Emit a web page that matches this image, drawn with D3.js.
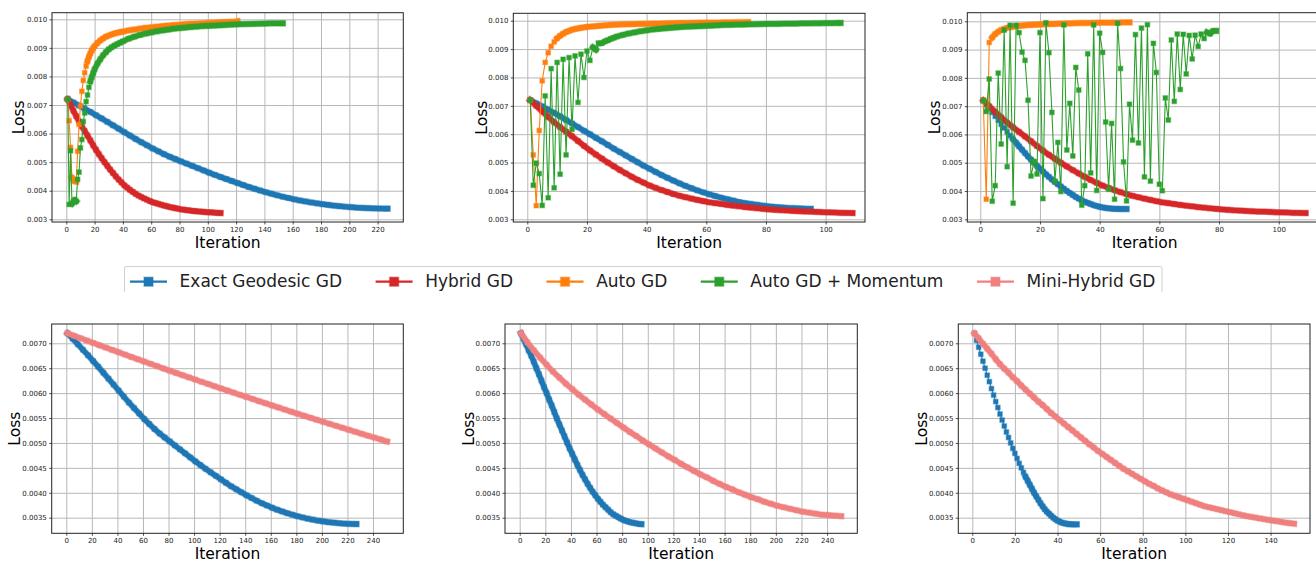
<!DOCTYPE html>
<html>
<head>
<meta charset="utf-8">
<script src="https://cdn.jsdelivr.net/npm/d3@7/dist/d3.min.js"></script>
<style>
  body { margin: 0; background: #fff; }
  svg { display: block; font-family: "DejaVu Sans", sans-serif; }
</style>
</head>
<body>
<div id="chart"></div>
<script>
'use strict'

// all loss values are in units of 1e-3
// dense series: one value per iteration, starting at iteration 1
// sparse series: [iteration, loss] pairs

const seriesNames = ['Exact Geodesic GD', 'Hybrid GD', 'Auto GD', 'Auto GD + Momentum', 'Mini-Hybrid GD']
const seriesColors = ['#1f77b4', '#d62728', '#ff7f0e', '#2ca02c', '#f08080']

const topLossTicks = [3, 4, 5, 6, 7, 8, 9, 10]
const bottomLossTicks = [3.5, 4.0, 4.5, 5.0, 5.5, 6.0, 6.5, 7.0]
const iterTicks220 = [0, 20, 40, 60, 80, 100, 120, 140, 160, 180, 200, 220]
const iterTicks100 = [0, 20, 40, 60, 80, 100]
const iterTicks240 = [0, 20, 40, 60, 80, 100, 120, 140, 160, 180, 200, 220, 240]
const iterTicks140 = [0, 20, 40, 60, 80, 100, 120, 140]

// Exact Geodesic GD, long run
const geodesicA = [[1,7.20],[5,7.09],[9,6.98],[13,6.87],[17,6.76],[21,6.645],[25,6.53],[29,6.41],[33,6.29],[37,6.17],
  [41,6.05],[45,5.93],[49,5.81],[53,5.70],[57,5.59],[61,5.48],[65,5.38],[69,5.28],[73,5.19],[77,5.11],[81,5.03],
  [85,4.95],[89,4.87],[93,4.79],[97,4.71],[101,4.63],[105,4.555],[109,4.48],[113,4.41],[117,4.34],[121,4.27],
  [125,4.20],[129,4.13],[133,4.07],[137,4.01],[141,3.95],[145,3.895],[149,3.84],[153,3.79],[157,3.745],[161,3.70],
  [165,3.66],[169,3.625],[173,3.59],[177,3.56],[181,3.53],[185,3.505],[189,3.48],[193,3.46],[197,3.44],[201,3.425],
  [205,3.41],[209,3.40],[213,3.39],[217,3.383],[221,3.378],[225,3.374],[227,3.373]]

// Exact Geodesic GD, medium run
const geodesicB = [[1,7.20],[3,7.09],[5,6.98],[7,6.86],[9,6.75],[11,6.63],[13,6.50],[15,6.38],[17,6.25],[19,6.12],
  [21,6.00],[23,5.87],[25,5.75],[27,5.62],[29,5.49],[31,5.37],[33,5.25],[35,5.13],[37,5.01],[39,4.89],[41,4.78],
  [43,4.67],[45,4.56],[47,4.46],[49,4.36],[51,4.27],[53,4.18],[55,4.10],[57,4.02],[59,3.95],[61,3.88],[63,3.82],
  [65,3.76],[67,3.71],[69,3.66],[71,3.61],[73,3.57],[75,3.54],[77,3.51],[79,3.48],[81,3.455],[83,3.435],[85,3.42],
  [87,3.405],[89,3.395],[91,3.385],[93,3.375],[95,3.37]]

// Exact Geodesic GD, short run (every iteration)
const geodesicC = [7.20, 7.06, 6.92, 6.78, 6.64, 6.50, 6.36, 6.23, 6.09, 5.96, 5.83, 5.71, 5.58, 5.46, 5.34, 5.22,
  5.11, 5.00, 4.89, 4.79, 4.69, 4.59, 4.50, 4.41, 4.32, 4.24, 4.16, 4.08, 4.00, 3.93, 3.86, 3.79, 3.73, 3.67, 3.62,
  3.58, 3.54, 3.50, 3.47, 3.44, 3.42, 3.40, 3.39, 3.38, 3.37, 3.37, 3.365, 3.365, 3.365]

// Hybrid GD (same run in all three top panels)
const hybrid = [[1,7.20],[3,7.00],[5,6.80],[7,6.61],[9,6.42],[11,6.25],[13,6.09],[15,5.93],[17,5.76],[19,5.59],
  [21,5.43],[23,5.28],[25,5.14],[27,5.00],[29,4.87],[31,4.74],[33,4.62],[35,4.50],[37,4.39],[39,4.29],[41,4.19],
  [43,4.11],[45,4.03],[47,3.96],[49,3.89],[51,3.83],[53,3.78],[55,3.73],[57,3.685],[59,3.64],[61,3.60],[63,3.57],
  [65,3.54],[67,3.51],[69,3.48],[71,3.46],[73,3.43],[75,3.41],[77,3.39],[79,3.37],[81,3.35],[83,3.335],[85,3.32],
  [87,3.31],[89,3.295],[91,3.285],[93,3.275],[95,3.27],[97,3.26],[99,3.25],[101,3.245],[103,3.24],[105,3.23],
  [107,3.225],[109,3.22]]

// Auto GD
const autoA = [[1,7.20],[2,6.45],[3,5.52],[4,4.45],[5,4.38],[6,4.33],[7,4.32],[8,5.38],[9,6.32],[10,6.97],[11,7.48],
  [12,7.86],[13,8.13],[14,8.36],[15,8.54],[16,8.69],[17,8.81],[18,8.91],[19,8.99],[20,9.06],[22,9.17],[24,9.26],
  [26,9.33],[28,9.39],[30,9.43],[32,9.47],[34,9.50],[36,9.53],[38,9.55],[40,9.57],[44,9.61],[48,9.64],[52,9.67],
  [56,9.70],[60,9.72],[64,9.74],[68,9.76],[72,9.78],[76,9.80],[80,9.81],[84,9.83],[88,9.84],[92,9.85],[96,9.86],
  [100,9.87],[104,9.88],[108,9.89],[112,9.90],[116,9.91],[120,9.92],[121,9.93]]
const autoB = [[1,7.20],[2,5.27],[3,3.48],[4,6.13],[5,7.88],[6,8.53],[7,8.87],[8,9.10],[9,9.25],[10,9.38],[11,9.47],
  [12,9.54],[13,9.60],[14,9.64],[15,9.68],[16,9.71],[17,9.73],[18,9.75],[19,9.765],[20,9.78],[22,9.80],[24,9.82],
  [26,9.835],[28,9.85],[30,9.86],[32,9.87],[34,9.875],[36,9.88],[38,9.885],[40,9.89],[42,9.895],[44,9.90],
  [46,9.905],[48,9.91],[50,9.915],[52,9.92],[54,9.92],[56,9.925],[58,9.93],[60,9.93],[62,9.935],[64,9.935],
  [66,9.94],[68,9.94],[70,9.945],[72,9.945],[74,9.95]]
const autoC = [[1,7.20],[2,3.71],[3,9.25],[4,9.43],[5,9.55],[6,9.63],[7,9.69],[8,9.73],[9,9.77],[10,9.79],[11,9.81],
  [12,9.83],[13,9.84],[14,9.85],[15,9.86],[16,9.87],[17,9.875],[18,9.88],[19,9.885],[20,9.89],[21,9.895],[22,9.90],
  [23,9.905],[24,9.91],[25,9.91],[26,9.915],[27,9.92],[28,9.92],[29,9.925],[30,9.93],[32,9.935],[34,9.94],[36,9.94],
  [38,9.945],[40,9.95],[42,9.95],[44,9.955],[46,9.955],[48,9.96],[50,9.96]]

// Auto GD + Momentum
const momentumA = [[1,7.20],[2,3.52],[3,5.40],[4,3.55],[5,3.62],[6,3.68],[7,3.63],[8,4.40],[9,4.65],[10,5.50],
  [11,5.79],[12,6.42],[13,6.72],[14,7.12],[15,7.35],[16,7.62],[17,7.83],[18,7.98],[19,8.12],[20,8.25],[22,8.45],
  [24,8.60],[26,8.74],[28,8.85],[30,8.95],[32,9.02],[34,9.08],[36,9.13],[38,9.18],[40,9.23],[44,9.32],[48,9.39],
  [52,9.45],[56,9.50],[60,9.54],[64,9.58],[68,9.61],[72,9.64],[76,9.67],[80,9.69],[84,9.71],[88,9.73],[92,9.745],
  [96,9.76],[100,9.77],[104,9.78],[108,9.79],[112,9.80],[116,9.81],[120,9.82],[124,9.83],[128,9.835],[132,9.84],
  [136,9.845],[140,9.85],[144,9.855],[148,9.86],[152,9.86],[153,9.86]]
const momentumB = [[1,7.20],[2,4.20],[3,4.98],[4,4.61],[5,3.49],[6,7.35],[7,3.76],[8,8.31],[9,4.11],[10,8.53],
  [11,4.59],[12,8.64],[13,5.27],[14,8.70],[15,6.17],[16,8.76],[17,7.12],[18,8.82],[19,8.00],[20,8.93],[21,8.60],
  [22,9.06],[23,8.98],[24,9.20],[25,9.21],[26,9.27],[27,9.31],[28,9.36],[29,9.40],[30,9.44],[32,9.50],[34,9.55],
  [36,9.59],[38,9.63],[40,9.66],[42,9.69],[44,9.71],[46,9.73],[48,9.75],[50,9.765],[52,9.78],[54,9.79],[56,9.80],
  [58,9.81],[60,9.82],[62,9.83],[64,9.84],[66,9.85],[68,9.855],[70,9.86],[72,9.865],[74,9.87],[76,9.875],[78,9.88],
  [80,9.885],[82,9.89],[84,9.89],[86,9.895],[88,9.90],[90,9.90],[92,9.905],[94,9.905],[96,9.91],[98,9.91],
  [100,9.915],[102,9.915],[104,9.92],[105,9.92]]
const momentumC = [7.20, 6.81, 7.96, 3.64, 4.19, 8.17, 5.66, 9.69, 4.86, 9.86, 3.57, 9.86, 9.60, 8.91, 8.62, 7.21,
  4.53, 5.05, 4.60, 9.60, 3.73, 9.95, 8.89, 6.78, 4.35, 5.72, 3.98, 9.87, 5.45, 7.10, 5.24, 8.37, 7.57, 3.50, 4.19,
  8.85, 4.64, 9.87, 4.02, 9.58, 8.90, 6.44, 4.06, 6.39, 3.71, 9.93, 8.33, 5.03, 3.65, 7.07, 5.80, 9.53, 5.70, 9.76,
  4.50, 9.88, 4.35, 9.22, 8.19, 4.24, 4.01, 7.29, 6.51, 9.34, 7.17, 9.55, 7.59, 9.54, 8.14, 9.50, 8.67, 9.51, 9.11,
  9.55, 9.39, 9.61, 9.56, 9.66, 9.66]

// Mini-Hybrid GD
const miniA = [[1,7.20],[6,7.152],[11,7.103],[16,7.055],[21,7.008],[26,6.96],[31,6.913],[36,6.866],[41,6.819],
  [46,6.772],[51,6.725],[56,6.679],[61,6.633],[66,6.587],[71,6.541],[76,6.495],[81,6.45],[86,6.405],[91,6.36],
  [96,6.315],[101,6.271],[106,6.226],[111,6.182],[116,6.138],[121,6.095],[126,6.051],[131,6.008],[136,5.965],
  [141,5.922],[146,5.88],[151,5.837],[156,5.795],[161,5.753],[166,5.711],[171,5.669],[176,5.628],[181,5.586],
  [186,5.545],[191,5.504],[196,5.464],[201,5.423],[206,5.383],[211,5.343],[216,5.303],[221,5.263],[226,5.224],
  [231,5.185],[236,5.146],[241,5.107],[246,5.068],[251,5.03]]
const miniB = [[1,7.20],[6,7.02],[11,6.86],[16,6.71],[21,6.57],[26,6.43],[31,6.31],[36,6.19],[41,6.08],[46,5.97],
  [51,5.87],[56,5.77],[61,5.67],[66,5.58],[71,5.49],[76,5.40],[81,5.31],[86,5.22],[91,5.14],[96,5.05],[101,4.97],
  [106,4.89],[111,4.81],[116,4.73],[121,4.66],[126,4.58],[131,4.51],[136,4.44],[141,4.37],[146,4.31],[151,4.24],
  [156,4.18],[161,4.12],[166,4.07],[171,4.01],[176,3.96],[181,3.91],[186,3.87],[191,3.82],[196,3.78],[201,3.74],
  [206,3.71],[211,3.68],[216,3.65],[221,3.62],[226,3.60],[231,3.58],[236,3.56],[241,3.55],[246,3.54],[251,3.53]]
const miniC = [[1,7.20],[3,7.10],[5,6.99],[7,6.89],[9,6.79],[11,6.68],[13,6.58],[15,6.49],[17,6.41],[19,6.32],
  [21,6.24],[23,6.15],[25,6.07],[27,5.99],[29,5.91],[31,5.83],[33,5.76],[35,5.68],[37,5.60],[39,5.53],[41,5.46],
  [43,5.39],[45,5.32],[47,5.25],[49,5.18],[51,5.11],[53,5.04],[55,4.97],[57,4.91],[59,4.84],[61,4.78],[63,4.72],
  [65,4.66],[67,4.60],[69,4.54],[71,4.48],[73,4.43],[75,4.38],[77,4.33],[79,4.28],[81,4.23],[83,4.18],[85,4.14],
  [87,4.09],[89,4.05],[91,4.01],[93,3.97],[95,3.94],[97,3.91],[99,3.88],[101,3.85],[103,3.82],[105,3.79],[107,3.76],
  [109,3.73],[111,3.71],[113,3.69],[115,3.67],[117,3.65],[119,3.63],[121,3.61],[123,3.59],[125,3.57],[127,3.55],
  [129,3.53],[131,3.515],[133,3.50],[135,3.485],[137,3.47],[139,3.455],[141,3.44],[143,3.43],[145,3.415],[147,3.40],
  [149,3.39],[151,3.38]]

// turn a dense list (iteration 1, 2, ...) into pairs
const seq = vals => vals.map((v, i) => [i + 1, v])

const svgWidth = 1316
const svgHeight = 561
const markerSize = 4.6

const svg = d3.select('#chart')
  .append('svg')
  .attr('width', svgWidth)
  .attr('height', svgHeight)

// panel boxes in pixels, domains
const panels = [
  { x: [52, 403.3], y: [12.7, 222], xd: [-10.11, 238.16], yd: [2.9055, 10.231], xt: iterTicks220, yt: topLossTicks, fmt: '.3f',
    lossX: 24, iterY: 247.7, series: [[geodesicA, 0], [hybrid, 1], [autoA, 2], [momentumA, 3]] },
  { x: [513.3, 865], y: [13.3, 222], xd: [-4.69, 113.2], yd: [2.905, 10.261], xt: iterTicks100, yt: topLossTicks, fmt: '.3f',
    lossX: 486.5, iterY: 247.7, series: [[geodesicB, 0], [hybrid, 1], [autoB, 2], [momentumB, 3]] },
  { x: [967.3, 1322], y: [12.7, 222], xd: [-4.35, 114.5], yd: [2.905, 10.304], xt: iterTicks100, yt: topLossTicks, fmt: '.3f',
    lossX: 940, iterY: 247.7, series: [[seq(geodesicC), 0], [hybrid, 1], [autoC, 2], [seq(momentumC), 3]] },
  { x: [51.7, 403.3], y: [324, 533.3], xd: [-11.42, 263.7], yd: [3.187, 7.387], xt: iterTicks240, yt: bottomLossTicks, fmt: '.4f',
    lossX: 20, iterY: 558.5, series: [[geodesicA, 0], [miniA, 4]] },
  { x: [505, 857.3], y: [324, 533.3], xd: [-11.48, 263.6], yd: [3.187, 7.387], xt: iterTicks240, yt: bottomLossTicks, fmt: '.4f',
    lossX: 474, iterY: 558.5, series: [[geodesicB, 0], [miniB, 4]] },
  { x: [958.3, 1310], y: [324, 533.3], xd: [-6.57, 158.5], yd: [3.187, 7.387], xt: iterTicks140, yt: bottomLossTicks, fmt: '.4f',
    lossX: 927, iterY: 558.5, series: [[seq(geodesicC), 0], [miniC, 4]] }
]

// where the per-iteration step is shorter than a marker, the markers of the
// run merge into one solid band; split the series into those runs
function denseRuns(data, xScale, yScale) {
  const runs = []
  let run = null
  for (let j = 1; j < data.length; j++) {
    const a = data[j - 1], b = data[j]
    const dist = Math.hypot(xScale(b[0]) - xScale(a[0]), yScale(b[1]) - yScale(a[1]))
    const perStep = dist / (b[0] - a[0])
    if (perStep < markerSize) {
      if (!run) { run = [a]; runs.push(run) }
      run.push(b)
    } else {
      run = null
    }
  }
  return runs
}

panels.forEach((p, k) => {
  const xScale = d3.scaleLinear().domain(p.xd).range(p.x)
  const yScale = d3.scaleLinear().domain(p.yd).range([p.y[1], p.y[0]])
  const w = p.x[1] - p.x[0]
  const h = p.y[1] - p.y[0]

  const g = svg.append('g')

  g.append('clipPath').attr('id', 'clip' + k)
    .append('rect')
    .attr('x', p.x[0]).attr('y', p.y[0]).attr('width', w).attr('height', h)

  // gridlines
  const grid = g.append('g').attr('clip-path', `url(#clip${k})`)
  grid.append('g')
    .attr('transform', `translate(0,${p.y[1]})`)
    .call(d3.axisBottom(xScale).tickValues(p.xt).tickSize(-h).tickFormat(''))
  grid.append('g')
    .attr('transform', `translate(${p.x[0]},0)`)
    .call(d3.axisLeft(yScale).tickValues(p.yt).tickSize(-w).tickFormat(''))
  grid.selectAll('.domain').remove()
  grid.selectAll('line').attr('stroke', '#b8b8b8').attr('stroke-width', 1)

  // data
  const marks = g.append('g').attr('clip-path', `url(#clip${k})`)
  const line = d3.line().x(d => xScale(d[0])).y(d => yScale(d[1]))
  p.series.forEach(([data, ci]) => {
    const color = seriesColors[ci]
    const s = marks.append('g')
    const runs = denseRuns(data, xScale, yScale)
    s.selectAll('path.halo')
      .data(runs)
      .join('path')
      .attr('class', 'halo')
      .attr('d', line)
      .attr('fill', 'none')
      .attr('stroke', color)
      .attr('stroke-opacity', 0.4)
      .attr('stroke-width', markerSize + 2.2)
      .attr('stroke-linejoin', 'round')
      .attr('stroke-linecap', 'square')
    s.selectAll('path.band')
      .data(runs)
      .join('path')
      .attr('class', 'band')
      .attr('d', line)
      .attr('fill', 'none')
      .attr('stroke', color)
      .attr('stroke-width', markerSize + 0.6)
      .attr('stroke-linejoin', 'round')
      .attr('stroke-linecap', 'square')
    s.append('path')
      .datum(data)
      .attr('d', line)
      .attr('fill', 'none')
      .attr('stroke', color)
      .attr('stroke-width', 1.1)
    s.selectAll('rect')
      .data(data)
      .join('rect')
      .attr('x', d => xScale(d[0]) - markerSize / 2)
      .attr('y', d => yScale(d[1]) - markerSize / 2)
      .attr('width', markerSize)
      .attr('height', markerSize)
      .attr('fill', color)
      .attr('stroke', color)
      .attr('stroke-opacity', 0.4)
      .attr('stroke-width', 1.3)
  })

  // spines
  g.append('rect')
    .attr('x', p.x[0]).attr('y', p.y[0]).attr('width', w).attr('height', h)
    .attr('fill', 'none').attr('stroke', '#222').attr('stroke-width', 1)

  // axes
  const xAxis = g.append('g')
    .attr('transform', `translate(0,${p.y[1]})`)
    .call(d3.axisBottom(xScale).tickValues(p.xt).tickSize(2.5).tickPadding(2.4).tickFormat(d3.format('d')))
  const yAxis = g.append('g')
    .attr('transform', `translate(${p.x[0]},0)`)
    .call(d3.axisLeft(yScale).tickValues(p.yt).tickSize(2.5).tickPadding(2.4).tickFormat(d => d3.format(p.fmt)(d / 1000)))
  ;[xAxis, yAxis].forEach(a => {
    a.select('.domain').remove()
    a.selectAll('line').attr('stroke', '#222').attr('stroke-width', 0.8)
    a.selectAll('text').attr('fill', '#222').style('font-size', '7px').style('font-family', '"DejaVu Sans", sans-serif')
  })

  // axis titles
  g.append('text')
    .attr('transform', `translate(${p.lossX},${(p.y[0] + p.y[1]) / 2}) rotate(-90)`)
    .attr('text-anchor', 'middle')
    .style('font-size', '15.5px')
    .text('Loss')
  g.append('text')
    .attr('x', (p.x[0] + p.x[1]) / 2)
    .attr('y', p.iterY)
    .attr('text-anchor', 'middle')
    .style('font-size', '15.5px')
    .text('Iteration')
})

// legend
const legend = svg.append('g')
legend.append('path')
  .attr('d', 'M124.5,292 V268 Q124.5,266.5 126,266.5 H1160.5 Q1162,266.5 1162,268 V292')
  .attr('fill', 'none')
  .attr('stroke', '#d0d0d0')
  .attr('stroke-width', 1)

let lx = 130
const ly = 281.7
seriesNames.forEach((name, i) => {
  const color = seriesColors[i]
  legend.append('line')
    .attr('x1', lx).attr('x2', lx + 37)
    .attr('y1', ly).attr('y2', ly)
    .attr('stroke', color).attr('stroke-width', 2.2)
  legend.append('rect')
    .attr('x', lx + 18.5 - 4.5).attr('y', ly - 4.5)
    .attr('width', 9).attr('height', 9)
    .attr('fill', color)
    .attr('stroke', color).attr('stroke-opacity', 0.4).attr('stroke-width', 1.5)
  const t = legend.append('text')
    .attr('x', lx + 37 + 12.6)
    .attr('y', 287.3)
    .style('font-size', '17px')
    .attr('fill', '#222')
    .text(name)
  lx = lx + 37 + 12.6 + t.node().getComputedTextLength() + 33.5
})
</script>
</body>
</html>
